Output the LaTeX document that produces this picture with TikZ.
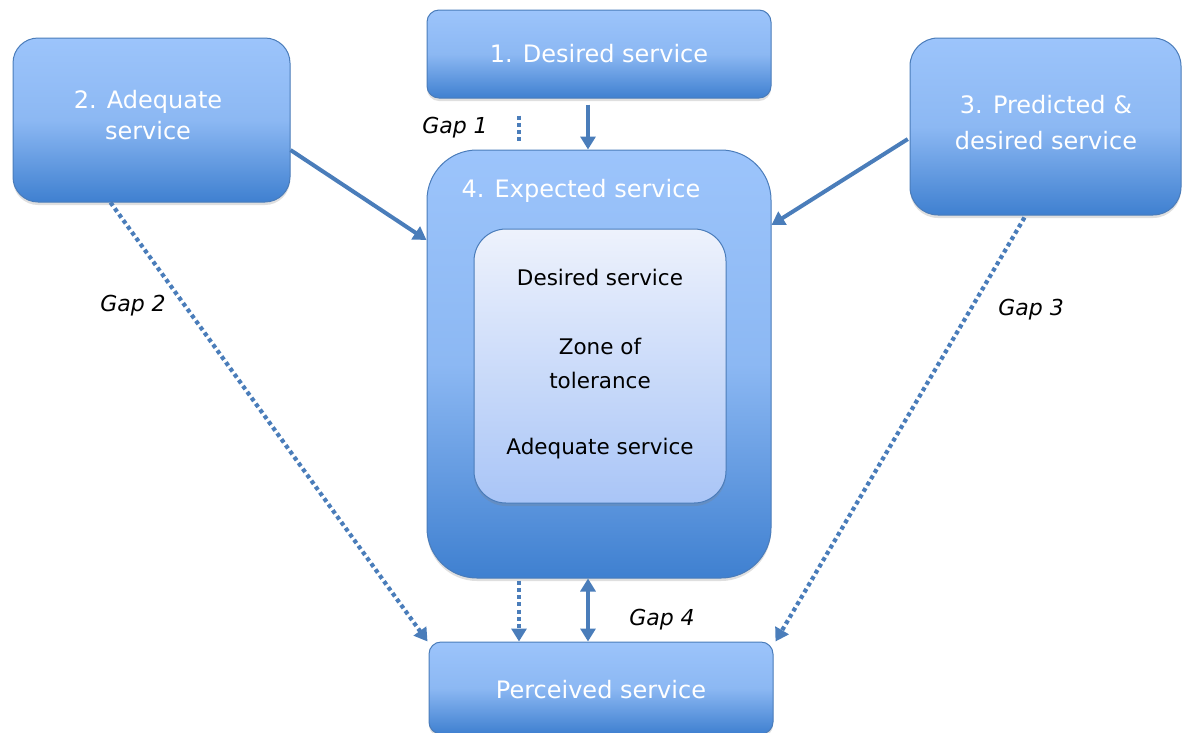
\documentclass[tikz,border=0pt]{standalone}
\usepackage{fontspec}
\setmainfont{DejaVu Sans}
\usetikzlibrary{arrows.meta,shadows}
\definecolor{edge}{HTML}{4A7DBA}
\definecolor{boxtop}{HTML}{9CC4FB}
\definecolor{boxmid}{HTML}{8CB8F3}
\definecolor{boxbot}{HTML}{3F80D0}
\definecolor{boxline}{HTML}{4A7CBA}
\definecolor{intop}{HTML}{EEF2FC}
\definecolor{inbot}{HTML}{A9C5F7}
\begin{document}
\begin{tikzpicture}[x=1pt,y=-1pt,
  bluebox/.style={draw=boxline, line width=1pt, top color=boxtop, bottom color=boxbot, middle color=boxmid,
    text=white, align=center, font=\fontsize{24}{33}\selectfont, inner sep=0pt,
    drop shadow={opacity=0.25, shadow xshift=0pt, shadow yshift=-3pt}},
  innerbox/.style={draw=boxline, line width=1pt, top color=intop, bottom color=inbot, rounded corners=32pt, inner sep=0pt,
    drop shadow={opacity=0.25, shadow xshift=0pt, shadow yshift=-3pt}},
  intext/.style={font=\fontsize{21.5}{34}\selectfont, text=black, align=center},
  gaplabel/.style={font=\fontsize{22}{24}\selectfont\itshape, text=black},
  tip/.style={-{Triangle[length=13pt,width=15pt]}},
  conn/.style={draw=edge, line width=4pt, tip},
  gapline/.style={draw=edge, line width=4.2pt, dash pattern=on 4pt off 3.3pt}
]
\useasboundingbox (0,0) rectangle (1183,732);
\clip (0,0) rectangle (1183,732);

\node[bluebox, rounded corners=12pt, minimum width=344pt, minimum height=88pt] (b1) at (599,54) {1. Desired service};
\node[bluebox, rounded corners=25pt, minimum width=277pt, minimum height=164pt] (b2) at (151.5,120) {};
\node[text=white, align=center, font=\fontsize{24}{31}\selectfont] (t2) at (148,115) {2. Adequate\\service};
\node[bluebox, rounded corners=28pt, minimum width=271pt, minimum height=177pt] (b3) at (1045.5,126.5) {};
\node[text=white, align=center, font=\fontsize{24}{36}\selectfont] (t3) at (1046,123) {3. Predicted \&\\desired service};
\node[bluebox, rounded corners=50pt, minimum width=344pt, minimum height=428pt] (b4) at (599,364) {};
\node[text=white, font=\fontsize{24}{25}\selectfont] (t4) at (581,191) {4. Expected service};
\node[innerbox, minimum width=252pt, minimum height=274pt] (in) at (600,366) {};
\node[intext] (d) at (600,277) {Desired service};
\node[intext] (z) at (600,363) {Zone of\\tolerance};
\node[intext] (a) at (600,449) {Adequate service};
\node[bluebox, rounded corners=12pt, minimum width=344pt, minimum height=92pt] (p) at (601,688) {};
\node[text=white, font=\fontsize{24}{25}\selectfont] (pt) at (601,690) {Perceived service};

% connectors
\draw[conn, shorten <=6pt] ([xshift=-11pt]b1.south) -- ([xshift=-11pt]b4.north);
\draw[gapline, shorten <=17pt, shorten >=5pt] ([xshift=-80pt]b1.south) -- ([xshift=-80pt]b4.north);
\draw[conn] ([yshift=-30pt]b2.east) -- ([yshift=124pt]b4.west);
\draw[conn, shorten <=2pt] ([yshift=-11.5pt]b3.west) -- ([yshift=139pt]b4.east);
\draw[gapline, tip] ([xshift=-41pt]b2.south) -- ([xshift=-1pt]p.north west);
\draw[gapline, tip] ([xshift=-21pt,yshift=-2pt]b3.south) -- ([xshift=2pt]p.north east);
\draw[gapline, tip, shorten <=2pt] ([xshift=-80pt]b4.south) -- ([xshift=-82pt]p.north);
\draw[conn, {Triangle[length=13pt,width=15pt]}-{Triangle[length=13pt,width=15pt]}] ([xshift=-11pt]b4.south) -- ([xshift=-13pt]p.north);

\node[gaplabel] (g1) at (455,128) {Gap 1};
\node[gaplabel] (g2) at (133,306) {Gap 2};
\node[gaplabel] (g3) at (1031,310) {Gap 3};
\node[gaplabel] (g4) at (662,620) {Gap 4};
\end{tikzpicture}
\end{document}
